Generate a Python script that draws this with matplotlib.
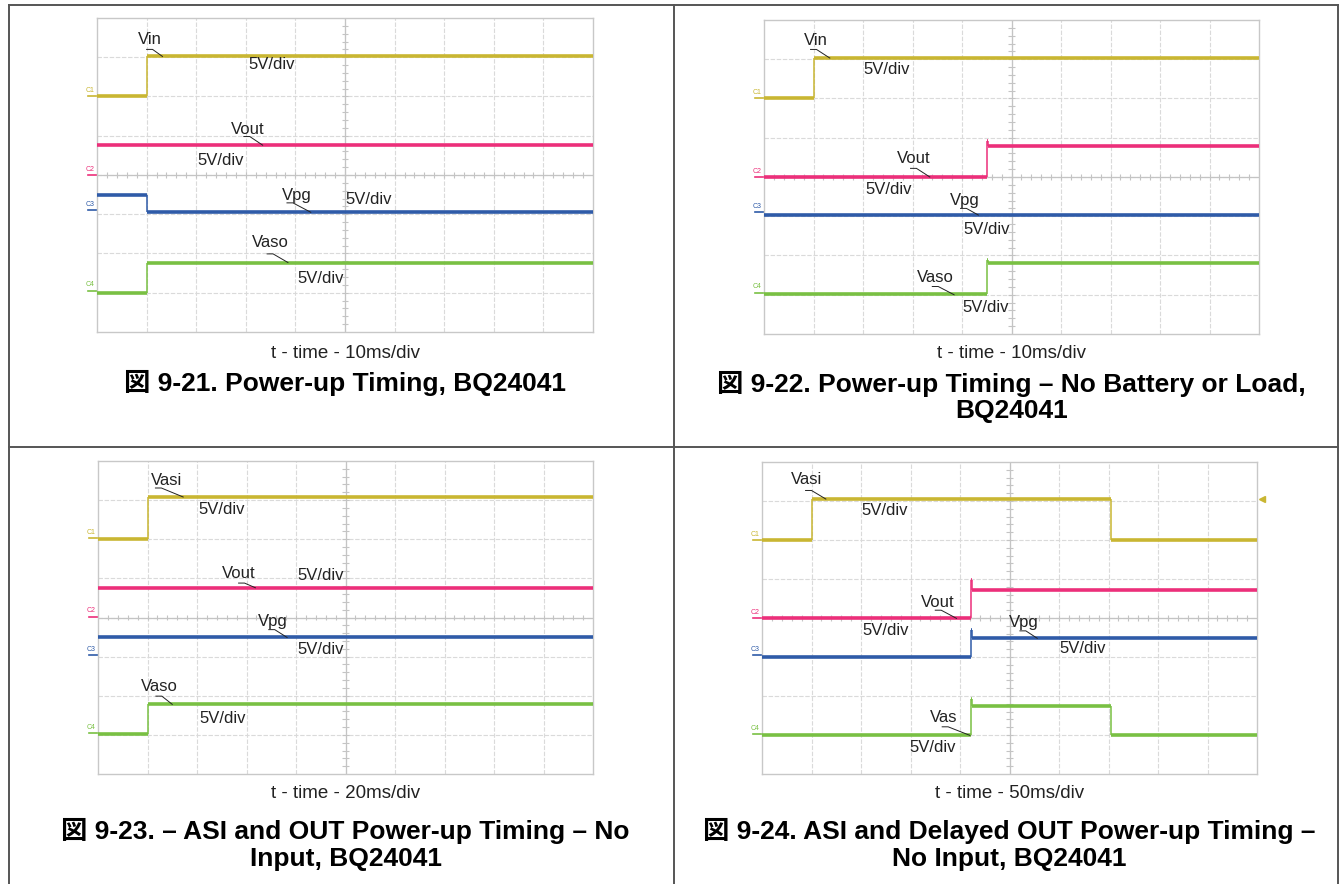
import matplotlib
matplotlib.use("Agg")
import matplotlib.pyplot as plt
from matplotlib.lines import Line2D
import numpy as np

plt.rcParams['font.family'] = ['Liberation Sans', 'Noto Sans CJK JP']

# ---- data: scope traces, time in divisions (0-10), level in divisions (0-8 from bottom)
# fig 9-21
p1_vin_t, p1_vin = [0, 1.0, 10], [6.0, 7.03]
p1_vout_t, p1_vout = [0, 10], [4.76]
p1_vpg_t, p1_vpg = [0, 1.0, 10], [3.49, 3.05]
p1_vaso_t, p1_vaso = [0, 1.0, 10], [1.0, 1.77]
p1_gnd = [6.0, 4.0, 3.1, 1.05]

# fig 9-22
p2_vin_t, p2_vin = [0, 1.0, 10], [6.0, 7.04]
p2_vout_t, p2_vout = [0, 4.5, 4.52, 10], [3.99, 4.92, 4.8]
p2_vpg_t, p2_vpg = [0, 10], [3.02]
p2_vaso_t, p2_vaso = [0, 4.5, 4.52, 10], [1.01, 1.89, 1.82]
p2_gnd = [6.0, 4.0, 3.1, 1.05]

# fig 9-23
p3_vasi_t, p3_vasi = [0, 1.0, 10], [6.01, 7.08]
p3_vout_t, p3_vout = [0, 10], [4.76]
p3_vpg_t, p3_vpg = [0, 10], [3.49]
p3_vaso_t, p3_vaso = [0, 1.0, 10], [1.02, 1.78]
p3_gnd = [6.03, 4.02, 3.04, 1.04]

# fig 9-24
p4_vasi_t, p4_vasi = [0, 1.0, 7.05, 10], [5.99, 7.05, 5.99]
p4_vout_t, p4_vout = [0, 4.22, 4.24, 10], [3.99, 4.97, 4.73]
p4_vpg_t, p4_vpg = [0, 4.22, 4.24, 10], [2.99, 3.69, 3.48]
p4_vas_t, p4_vas = [0, 4.22, 4.24, 7.05, 10], [0.99, 1.93, 1.74, 0.99]
p4_gnd = [6.0, 4.0, 3.05, 1.02]

channels = ["C1", "C2", "C3", "C4"]
xlabels = ["t - time - 10ms/div", "t - time - 10ms/div",
           "t - time - 20ms/div", "t - time - 50ms/div"]
captions = ["図 9-21. Power-up Timing, BQ24041",
            "図 9-22. Power-up Timing – No Battery or Load,\nBQ24041",
            "図 9-23. – ASI and OUT Power-up Timing – No\nInput, BQ24041",
            "図 9-24. ASI and Delayed OUT Power-up Timing –\nNo Input, BQ24041"]

YEL, PINK, BLUE, GRN = '#c9b632', '#ec2f7a', '#2f5ba8', '#79c043'
ch_colors = [YEL, PINK, BLUE, GRN]

W, H = 1340, 884
fig = plt.figure(figsize=(W / 100, H / 100), dpi=100)


def fx(px):
    return px / W


def fy(py):
    return 1 - py / H


# outer frame and dividers
for xs, ys in [([9, 1338], [5, 5]), ([9, 1338], [447, 447]), ([9, 9], [5, 884]),
               ([1338, 1338], [5, 884]), ([674, 674], [5, 884])]:
    fig.add_artist(Line2D([fx(x) for x in xs], [fy(y) for y in ys], color='#555555', lw=1.4))


def draw_panel(box, traces, gnd, notes, xlabel, caption, xlab_y, cap_y, marker=False):
    left, top, right, bottom = box
    ax = fig.add_axes([fx(left), fy(bottom), (right - left) / W, (bottom - top) / H])
    ax.set_xlim(0, 10)
    ax.set_ylim(0, 8)
    ax.set_xticks([])
    ax.set_yticks([])
    for s in ax.spines.values():
        s.set_color('#c8c8c8')
        s.set_linewidth(1.0)
    # graticule
    for i in range(1, 10):
        ax.axvline(i, color='#dadada', lw=0.8, ls=(0, (4, 1.5)), zorder=0)
    for j in range(1, 8):
        ax.axhline(j, color='#dadada', lw=0.8, ls=(0, (4, 1.5)), zorder=0)
    ax.axvline(5, color='#c4c4c4', lw=0.9, zorder=0)
    ax.axhline(4, color='#c4c4c4', lw=0.9, zorder=0)
    ax.vlines(np.arange(0.2, 10, 0.2), 3.93, 4.07, color='#c4c4c4', lw=0.8, zorder=0)
    ax.hlines(np.arange(0.2, 8, 0.2), 4.93, 5.07, color='#c4c4c4', lw=0.8, zorder=0)

    for (t, v), c in zip(traces, ch_colors):
        t = np.asarray(t)
        v = np.asarray(v)
        ax.hlines(v, t[:-1], t[1:], color=c, lw=2.6, zorder=3)
        if len(v) > 1:
            ax.vlines(t[1:-1], v[:-1], v[1:], color=c, lw=1.1, zorder=3)

    for name, g, c in zip(channels, gnd, ch_colors):
        ax.text(-0.05, g + 0.06, name, color=c, fontsize=5, ha='right', va='bottom', clip_on=False)
        ax.plot([-0.18, 0], [g, g], color=c, lw=1.2, clip_on=False)
    if marker:
        ax.plot(10.1, traces[0][1][1], marker='<', ms=4, color=YEL, clip_on=False)

    for s, x, y, lead in notes:
        ax.text(x, y, s, fontsize=12, ha='center', va='center', color='#222222', zorder=5)
        if lead:
            (x0, y0), (x1, y1) = lead
            ax.plot([x0 - 0.12, x0, x1], [y0, y0, y1], color='#222222', lw=0.7, zorder=5)

    cx = (left + right) / 2
    fig.text(fx(cx), fy(xlab_y), xlabel, fontsize=13.5, ha='center', va='center', color='#222222')
    fig.text(fx(cx), fy(cap_y), caption, fontsize=19, fontweight='bold',
             ha='center', va='center', linespacing=1.15)
    return ax


draw_panel((97, 18, 593, 332),
           [(p1_vin_t, p1_vin), (p1_vout_t, p1_vout), (p1_vpg_t, p1_vpg), (p1_vaso_t, p1_vaso)],
           p1_gnd,
           [("Vin", 1.07, 7.44, ((1.12, 7.2), (1.32, 7.02))), ("5V/div", 3.52, 6.82, None),
            ("Vout", 3.04, 5.16, ((3.08, 4.98), (3.34, 4.76))), ("5V/div", 2.49, 4.38, None),
            ("Vpg", 4.03, 3.47, ((3.95, 3.29), (4.31, 3.05))), ("5V/div", 5.48, 3.38, None),
            ("Vaso", 3.5, 2.28, ((3.55, 1.99), (3.85, 1.77))), ("5V/div", 4.51, 1.37, None)],
           xlabels[0], captions[0], 353, 383)

draw_panel((764, 20, 1259, 334),
           [(p2_vin_t, p2_vin), (p2_vout_t, p2_vout), (p2_vpg_t, p2_vpg), (p2_vaso_t, p2_vaso)],
           p2_gnd,
           [("Vin", 1.04, 7.49, ((1.06, 7.25), (1.33, 7.03))), ("5V/div", 2.48, 6.75, None),
            ("Vout", 3.03, 4.47, ((3.08, 4.22), (3.35, 4.0))), ("5V/div", 2.51, 3.67, None),
            ("Vpg", 4.06, 3.41, ((4.09, 3.2), (4.33, 3.03))), ("5V/div", 4.5, 2.65, None),
            ("Vaso", 3.47, 1.43, ((3.52, 1.21), (3.84, 1.0))), ("5V/div", 4.47, 0.68, None)],
           xlabels[1], captions[1], 353, 397)

draw_panel((98, 461, 593, 774),
           [(p3_vasi_t, p3_vasi), (p3_vout_t, p3_vout), (p3_vpg_t, p3_vpg), (p3_vaso_t, p3_vaso)],
           p3_gnd,
           [("Vasi", 1.38, 7.51, ((1.28, 7.31), (1.72, 7.08))), ("5V/div", 2.5, 6.77, None),
            ("Vout", 2.85, 5.12, ((2.96, 4.88), (3.18, 4.76))), ("5V/div", 4.49, 5.08, None),
            ("Vpg", 3.54, 3.91, ((3.57, 3.69), (3.82, 3.49))), ("5V/div", 4.49, 3.18, None),
            ("Vaso", 1.23, 2.23, ((1.29, 1.99), (1.5, 1.78))), ("5V/div", 2.51, 1.42, None)],
           xlabels[2], captions[2], 794, 844.5)

draw_panel((762, 462, 1257, 774),
           [(p4_vasi_t, p4_vasi), (p4_vout_t, p4_vout), (p4_vpg_t, p4_vpg), (p4_vas_t, p4_vas)],
           p4_gnd,
           [("Vasi", 0.91, 7.55, ((1.0, 7.27), (1.29, 7.05))), ("5V/div", 2.48, 6.76, None),
            ("Vout", 3.56, 4.41, ((3.62, 4.2), (3.93, 3.99))), ("5V/div", 2.5, 3.67, None),
            ("Vpg", 5.29, 3.88, ((5.33, 3.67), (5.56, 3.48))), ("5V/div", 6.47, 3.22, None),
            ("Vas", 3.68, 1.45, ((3.76, 1.21), (4.2, 0.99))), ("5V/div", 3.45, 0.68, None)],
           xlabels[3], captions[3], 794, 844.5, marker=True)

fig.savefig("out.png", dpi=100)
